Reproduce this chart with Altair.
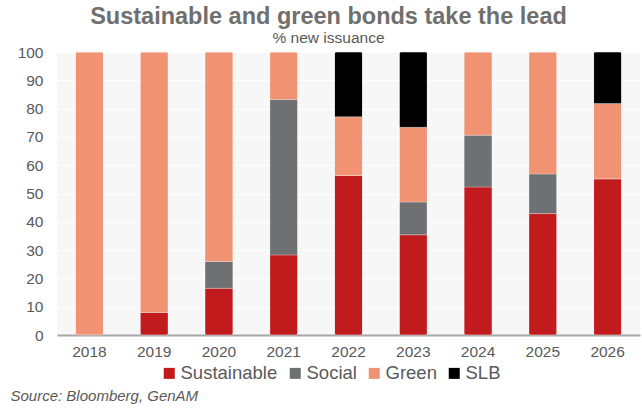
import altair as alt
import pandas as pd

years = ["2018", "2019", "2020", "2021", "2022", "2023", "2024", "2025", "2026"]
types = ["Sustainable", "Social", "Green", "SLB"]
colors = ["#C11B1E", "#6F7072", "#F19373", "#000000"]

sustainable = [0, 8, 16.5, 28.3, 56.4, 35.4, 52.3, 42.9, 55.2]
social = [0, 0, 9.5, 54.9, 0, 11.6, 18.3, 14.0, 0]
green = [100, 92, 74, 16.8, 20.7, 26.4, 29.4, 43.1, 26.6]
slb = [0, 0, 0, 0, 22.9, 26.6, 0, 0, 18.2]

series = [sustainable, social, green, slb]
rows = []
for ti, (t, vals) in enumerate(zip(types, series)):
    for y, v in zip(years, vals):
        rows.append({"year": y, "type": t, "value": v, "order": ti})
df = pd.DataFrame(rows)

FONT = "Liberation Sans"

chart = alt.Chart(df).mark_bar(cornerRadius=2, stroke="#ffffff", strokeOpacity=0.25, strokeWidth=1).encode(
    x=alt.X("year:N", sort=years,
            scale=alt.Scale(paddingInner=0.568, paddingOuter=0.284),
            axis=alt.Axis(title="Source: Bloomberg, GenAM", labelAngle=0, labelFontSize=15.5,
                          labelColor="#595959", labelFont=FONT, labelPadding=9,
                          ticks=False, domainColor="#a6a6a6", domainWidth=2, grid=False,
                          titleFont=FONT, titleFontSize=15, titleFontStyle="italic",
                          titleFontWeight="normal", titleColor="#595959",
                          titleAnchor="start", titleAlign="left", titleBaseline="alphabetic",
                          titleX=-47, titleY=65)),
    y=alt.Y("value:Q", stack="zero",
            scale=alt.Scale(domain=[0, 100], nice=False),
            axis=alt.Axis(title=None, values=list(range(0, 101, 10)), labelFontSize=15.5,
                          labelColor="#595959", labelFont=FONT, labelPadding=14,
                          ticks=False, domain=False, grid=True, gridColor="#ffffff", gridWidth=1)),
    color=alt.Color("type:N", sort=types,
                    scale=alt.Scale(domain=types, range=colors),
                    legend=alt.Legend(title=None, orient="none", direction="horizontal",
                                      legendX=103, legendY=312,
                                      symbolType="square", symbolSize=121, symbolStrokeWidth=0,
                                      symbolOpacity=1,
                                      labelFontSize=18.5, labelFont=FONT, labelColor="#595959",
                                      labelOffset=2, columnPadding=8)),
    order=alt.Order("order:Q", sort="ascending"),
).properties(
    width=583,
    height=283,
    background="#ffffff",
    autosize=alt.AutoSizeParams(type="none"),
    padding={"left": 57, "top": 52, "right": 2, "bottom": 73},
    title=alt.TitleParams(
        text="Sustainable and green bonds take the lead",
        subtitle="% new issuance",
        anchor="middle", frame="group", dx=-20, dy=5,
        font=FONT, fontSize=23.5, fontWeight="bold", color="#6F6F6F",
        subtitleFont=FONT, subtitleFontSize=15.5, subtitleColor="#595959",
        subtitlePadding=2, offset=4,
    ),
).configure_view(
    fill="#F7F7F7", stroke=None
)

chart.save("out.html", embed_options={"renderer": "svg", "actions": False})
